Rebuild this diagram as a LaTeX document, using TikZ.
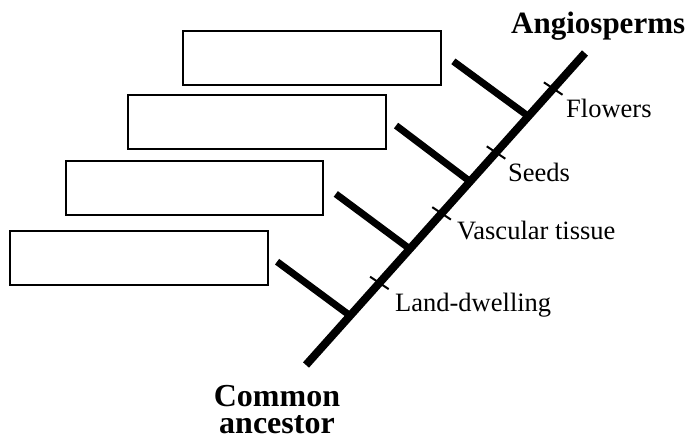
\documentclass[tikz,border=0pt]{standalone}
\usepackage{fontspec}
\setmainfont{Liberation Serif}
\usetikzlibrary{calc}
\begin{document}
\begin{tikzpicture}[x=1pt,y=-1pt,
  trunk/.style={line width=8pt,line cap=butt},
  branch/.style={line width=7pt,line cap=butt},
  tickmark/.style={line width=2pt},
  blank/.style={draw,line width=2pt,minimum width=257.5pt,minimum height=54pt,inner sep=0pt},
  trait/.style={anchor=base west,inner sep=0pt,font=\fontsize{26.5}{30}\selectfont},
  endlabel/.style={inner sep=0pt,font=\fontsize{31}{36}\selectfont\bfseries}]
\useasboundingbox (0,0) rectangle (688,443);
% boxes
\node[blank] (b1) at (312,58) {};
\node[blank] (b2) at (257,122) {};
\node[blank] (b3) at (194.7,188) {};
\node[blank] (b4) at (138.8,258) {};
% main line
\coordinate (root) at (306,365);
\coordinate (tip) at (585,53);
\draw[trunk] (root) -- (tip);
% junctions
\coordinate (j4) at ($(root)!0.158!(tip)$);
\coordinate (j3) at ($(root)!0.372!(tip)$);
\coordinate (j2) at ($(root)!0.588!(tip)$);
\coordinate (j1) at ($(root)!0.797!(tip)$);
\coordinate (e4) at ($(j4)+(-73,-54)$);
\coordinate (e3) at ($(j3)+(-74,-55)$);
\coordinate (e2) at ($(j2)+(-74,-56)$);
\coordinate (e1) at ($(j1)+(-75,-55)$);
\foreach \i in {1,2,3,4} \draw[branch] (e\i) -- (j\i);
% ticks
\coordinate (m4) at ($(root)!0.263!(tip)$);
\coordinate (m3) at ($(root)!0.486!(tip)$);
\coordinate (m2) at ($(root)!0.681!(tip)$);
\coordinate (m1) at ($(root)!0.886!(tip)$);
\foreach \i in {1,2,3,4} \draw[tickmark] ($(m\i)+(-9.3,-6.2)$) -- ($(m\i)+(9.3,6.2)$);
% trait labels
\node[trait] (flowers) at (566,118) {Flowers};
\node[trait] (seeds) at (508,181.7) {Seeds};
\node[trait] (vasc) at (457,240) {Vascular tissue};
\node[trait] (land) at (395,311.7) {Land-dwelling};
% end labels
\node[endlabel,anchor=base west] (angio) at (511,33.3) {Angiosperms};
\node[endlabel,anchor=south,align=center,font=\fontsize{32}{27}\selectfont\bfseries] (ancestor) at (277,434) {Common\\ancestor};
\end{tikzpicture}
\end{document}
